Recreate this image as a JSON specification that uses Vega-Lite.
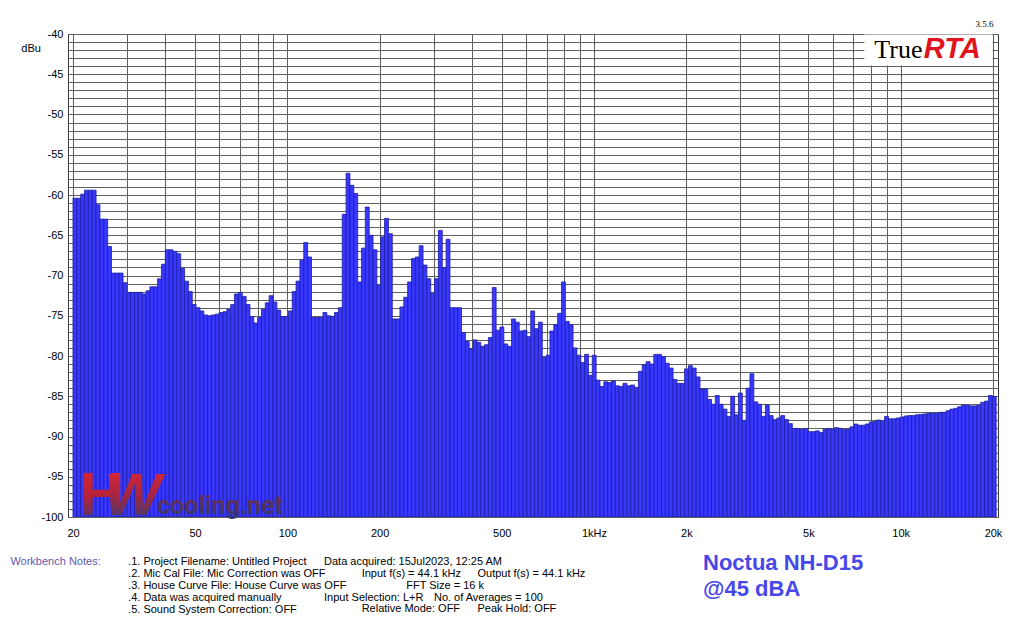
{
  "$schema": "https://vega.github.io/schema/vega-lite/v6.json",
  "width": 930,
  "height": 483,
  "autosize": {"type": "none"},
  "padding": {"left": 68, "top": 34, "right": 26, "bottom": 107},
  "background": "white",
  "config": {
    "font": "Liberation Sans, Arial, sans-serif",
    "view": {"stroke": "#3a3a3a", "strokeWidth": 1},
    "text": {"font": "Liberation Sans, Arial, sans-serif", "fontSize": 11, "baseline": "alphabetic", "align": "left", "color": "black"}
  },
  "layer": [
    {
      "data": {
        "values": [
          {"f": 20.29, "db": -60.4}, {"f": 20.89, "db": -60.4}, {"f": 21.50, "db": -59.9}, {"f": 22.13, "db": -59.4},
          {"f": 22.78, "db": -59.4}, {"f": 23.44, "db": -59.4}, {"f": 24.13, "db": -61.2}, {"f": 24.84, "db": -63.0},
          {"f": 25.57, "db": -63.0}, {"f": 26.31, "db": -66.4}, {"f": 27.09, "db": -69.7}, {"f": 27.88, "db": -69.7},
          {"f": 28.70, "db": -69.7}, {"f": 29.54, "db": -70.9}, {"f": 30.40, "db": -72.1}, {"f": 31.29, "db": -72.1},
          {"f": 32.21, "db": -72.1}, {"f": 33.15, "db": -72.1}, {"f": 34.13, "db": -72.3}, {"f": 35.13, "db": -71.9},
          {"f": 36.15, "db": -71.4}, {"f": 37.21, "db": -71.4}, {"f": 38.30, "db": -70.4}, {"f": 39.43, "db": -68.6},
          {"f": 40.58, "db": -66.8}, {"f": 41.77, "db": -66.8}, {"f": 43.00, "db": -67.0}, {"f": 44.25, "db": -67.3},
          {"f": 45.55, "db": -69.1}, {"f": 46.89, "db": -70.7}, {"f": 48.26, "db": -72.0}, {"f": 49.67, "db": -73.6},
          {"f": 51.13, "db": -74.0}, {"f": 52.63, "db": -74.4}, {"f": 54.17, "db": -74.9}, {"f": 55.76, "db": -75.0},
          {"f": 57.39, "db": -74.9}, {"f": 59.07, "db": -74.8}, {"f": 60.80, "db": -74.6}, {"f": 62.59, "db": -74.5},
          {"f": 64.42, "db": -74.2}, {"f": 66.31, "db": -73.6}, {"f": 68.25, "db": -72.3}, {"f": 70.25, "db": -72.1},
          {"f": 72.31, "db": -72.6}, {"f": 74.43, "db": -73.6}, {"f": 76.61, "db": -75.1}, {"f": 78.85, "db": -75.9},
          {"f": 81.16, "db": -75.2}, {"f": 83.54, "db": -74.2}, {"f": 85.99, "db": -73.4}, {"f": 88.51, "db": -72.5},
          {"f": 91.10, "db": -73.3}, {"f": 93.77, "db": -74.3}, {"f": 96.52, "db": -75.1}, {"f": 99.35, "db": -75.1},
          {"f": 102.26, "db": -74.4}, {"f": 105.26, "db": -72.0}, {"f": 108.34, "db": -70.7}, {"f": 111.51, "db": -68.1},
          {"f": 114.78, "db": -65.9}, {"f": 118.15, "db": -67.7}, {"f": 121.61, "db": -75.2}, {"f": 125.17, "db": -75.2},
          {"f": 128.84, "db": -75.2}, {"f": 132.61, "db": -74.6}, {"f": 136.50, "db": -75.0}, {"f": 140.50, "db": -75.1},
          {"f": 144.62, "db": -74.6}, {"f": 148.86, "db": -74.0}, {"f": 153.22, "db": -62.4}, {"f": 157.71, "db": -57.3},
          {"f": 162.3, "db": -58.8}, {"f": 167.1, "db": -59.8}, {"f": 172.0, "db": -70.8}, {"f": 177.0, "db": -66.6},
          {"f": 182.2, "db": -61.5}, {"f": 187.5, "db": -65.0}, {"f": 193.0, "db": -66.8}, {"f": 198.7, "db": -71.2},
          {"f": 204.5, "db": -65.2}, {"f": 210.5, "db": -62.9}, {"f": 216.7, "db": -64.8}, {"f": 223.0, "db": -75.4},
          {"f": 229.6, "db": -75.4}, {"f": 236.3, "db": -73.9}, {"f": 243.2, "db": -72.7}, {"f": 250.4, "db": -70.8},
          {"f": 257.7, "db": -67.9}, {"f": 265.2, "db": -67.7}, {"f": 273.0, "db": -66.3}, {"f": 281.0, "db": -68.7},
          {"f": 289.2, "db": -70.4}, {"f": 297.7, "db": -72.2}, {"f": 306.4, "db": -70.4}, {"f": 315.4, "db": -64.4},
          {"f": 324.7, "db": -69.0}, {"f": 334.2, "db": -65.5}, {"f": 344.0, "db": -74.0}, {"f": 354.0, "db": -74.0},
          {"f": 364.4, "db": -74.0}, {"f": 375.1, "db": -77.1}, {"f": 386.1, "db": -78.2}, {"f": 397.4, "db": -79.1},
          {"f": 409.0, "db": -78.0}, {"f": 421.0, "db": -78.3}, {"f": 433.4, "db": -78.8}, {"f": 446.1, "db": -78.6},
          {"f": 459.1, "db": -77.7}, {"f": 472.6, "db": -71.5}, {"f": 486.4, "db": -76.8}, {"f": 500.7, "db": -76.4},
          {"f": 515.4, "db": -78.5}, {"f": 530.5, "db": -78.8}, {"f": 546.0, "db": -75.4}, {"f": 562.0, "db": -75.8},
          {"f": 578.5, "db": -76.9}, {"f": 595.4, "db": -76.8}, {"f": 612.9, "db": -77.6}, {"f": 630.8, "db": -74.4},
          {"f": 649.3, "db": -76.6}, {"f": 668.3, "db": -75.8}, {"f": 687.9, "db": -80.2}, {"f": 708.1, "db": -79.9},
          {"f": 728.8, "db": -76.9}, {"f": 750.2, "db": -76.1}, {"f": 772.2, "db": -74.7}, {"f": 794.8, "db": -70.8},
          {"f": 818.1, "db": -75.7}, {"f": 842.0, "db": -76.1}, {"f": 866.7, "db": -79.0}, {"f": 892.1, "db": -79.9},
          {"f": 918.3, "db": -80.8}, {"f": 945.2, "db": -79.8}, {"f": 972.9, "db": -82.4}, {"f": 1001.4, "db": -79.9},
          {"f": 1030.7, "db": -83.0}, {"f": 1060.9, "db": -83.8}, {"f": 1092.0, "db": -83.2}, {"f": 1124.0, "db": -83.3},
          {"f": 1156.9, "db": -83.1}, {"f": 1190.8, "db": -83.7}, {"f": 1225.7, "db": -83.8}, {"f": 1261.6, "db": -83.4},
          {"f": 1298.6, "db": -83.7}, {"f": 1336.7, "db": -83.6}, {"f": 1375.8, "db": -83.9}, {"f": 1416.2, "db": -81.9},
          {"f": 1457.7, "db": -81.1}, {"f": 1500.4, "db": -80.7}, {"f": 1544.4, "db": -81.0}, {"f": 1589.6, "db": -79.8},
          {"f": 1636.2, "db": -79.8}, {"f": 1684.1, "db": -80.1}, {"f": 1733.5, "db": -80.9}, {"f": 1784.2, "db": -81.5},
          {"f": 1836.5, "db": -82.9}, {"f": 1890.3, "db": -83.4}, {"f": 1945.7, "db": -83.4}, {"f": 2002.7, "db": -81.6},
          {"f": 2061.4, "db": -81.2}, {"f": 2121.8, "db": -81.5}, {"f": 2184.0, "db": -82.6}, {"f": 2248.0, "db": -84.1},
          {"f": 2313.9, "db": -84.1}, {"f": 2381.7, "db": -85.4}, {"f": 2451.5, "db": -86.0}, {"f": 2523.3, "db": -84.9},
          {"f": 2597.2, "db": -86.0}, {"f": 2673.3, "db": -86.6}, {"f": 2751.7, "db": -87.5}, {"f": 2832.3, "db": -85.0},
          {"f": 2915.3, "db": -87.3}, {"f": 3000.7, "db": -84.6}, {"f": 3088.7, "db": -88.0}, {"f": 3179.2, "db": -84.0},
          {"f": 3272.3, "db": -82.2}, {"f": 3368.2, "db": -85.7}, {"f": 3466.9, "db": -86.0}, {"f": 3568.4, "db": -87.5},
          {"f": 3673.0, "db": -86.1}, {"f": 3780.7, "db": -87.4}, {"f": 3891.5, "db": -87.9}, {"f": 4005.5, "db": -87.7},
          {"f": 4122.9, "db": -87.4}, {"f": 4243.7, "db": -87.9}, {"f": 4368.0, "db": -88.4}, {"f": 4496.0, "db": -89.0},
          {"f": 4627.8, "db": -89.0}, {"f": 4763.4, "db": -89.1}, {"f": 4902.9, "db": -89.0}, {"f": 5046.6, "db": -89.4},
          {"f": 5194.5, "db": -89.4}, {"f": 5346.7, "db": -89.3}, {"f": 5503.3, "db": -89.5}, {"f": 5664.6, "db": -89.1},
          {"f": 5830.6, "db": -89.0}, {"f": 6001.5, "db": -89.1}, {"f": 6177.3, "db": -88.9}, {"f": 6358.3, "db": -89.0},
          {"f": 6544.6, "db": -89.1}, {"f": 6736.4, "db": -89.1}, {"f": 6933.8, "db": -88.8}, {"f": 7136.9, "db": -88.45},
          {"f": 7346.1, "db": -88.6}, {"f": 7561.3, "db": -88.6}, {"f": 7782.9, "db": -88.45}, {"f": 8010.9, "db": -88.2},
          {"f": 8245.7, "db": -88.1}, {"f": 8487.3, "db": -87.95}, {"f": 8736.0, "db": -88.1}, {"f": 8992.0, "db": -87.5},
          {"f": 9255.5, "db": -87.8}, {"f": 9526.7, "db": -87.8}, {"f": 9805.9, "db": -87.7}, {"f": 10093.2, "db": -87.6},
          {"f": 10389, "db": -87.45}, {"f": 10693, "db": -87.4}, {"f": 11007, "db": -87.4}, {"f": 11329, "db": -87.3},
          {"f": 11661, "db": -87.25}, {"f": 12003, "db": -87.2}, {"f": 12355, "db": -87.1}, {"f": 12717, "db": -87.1},
          {"f": 13089, "db": -87.1}, {"f": 13473, "db": -87.0}, {"f": 13868, "db": -87.0}, {"f": 14274, "db": -86.8},
          {"f": 14692, "db": -86.6}, {"f": 15123, "db": -86.5}, {"f": 15566, "db": -86.3}, {"f": 16022, "db": -86.1},
          {"f": 16491, "db": -86.1}, {"f": 16975, "db": -86.2}, {"f": 17472, "db": -86.2}, {"f": 17984, "db": -86.1},
          {"f": 18511, "db": -85.75}, {"f": 19053, "db": -85.6}, {"f": 19612, "db": -84.9}, {"f": 20186, "db": -85.05}
        ]
      },
      "mark": {"type": "bar", "width": 3.89, "fill": "#3737ff", "stroke": "#1e1ea0", "strokeWidth": 0.8, "clip": true},
      "encoding": {
        "x": {
          "field": "f",
          "type": "quantitative",
          "scale": {"type": "log", "domain": [20, 20000], "nice": false},
          "axis": {
            "title": null,
            "values": [20, 30, 40, 50, 60, 70, 80, 90, 100, 200, 300, 400, 500, 600, 700, 800, 900, 1000, 2000, 3000, 4000, 5000, 6000, 7000, 8000, 9000, 10000, 20000],
            "tickCount": 100,
            "labelExpr": "datum.value == 1000 ? '1kHz' : indexof([20, 50, 100, 200, 500], datum.value) >= 0 ? '' + datum.value : indexof([2000, 5000, 10000, 20000], datum.value) >= 0 ? (datum.value / 1000) + 'k' : ''",
            "grid": true,
            "gridColor": "#606060",
            "gridWidth": 1,
            "ticks": false,
            "domain": false,
            "labelPadding": 10,
            "labelFontSize": 11,
            "labelColor": "black",
            "labelOverlap": false,
            "labelFlush": false,
            "labelBound": false
          }
        },
        "y": {
          "field": "db",
          "type": "quantitative",
          "scale": {"domain": [-100, -40], "nice": false, "zero": false},
          "axis": {
            "title": null,
            "values": [-100, -99, -98, -97, -96, -95, -94, -93, -92, -91, -90, -89, -88, -87, -86, -85, -84, -83, -82, -81, -80, -79, -78, -77, -76, -75, -74, -73, -72, -71, -70, -69, -68, -67, -66, -65, -64, -63, -62, -61, -60, -59, -58, -57, -56, -55, -54, -53, -52, -51, -50, -49, -48, -47, -46, -45, -44, -43, -42, -41, -40],
            "tickCount": 100,
            "labelExpr": "datum.value % 5 == 0 ? '' + datum.value : ''",
            "grid": true,
            "gridColor": "#606060",
            "gridWidth": 1,
            "ticks": false,
            "domain": false,
            "labelPadding": 5,
            "labelFontSize": 11,
            "labelColor": "black",
            "labelOverlap": false,
            "labelFlush": false,
            "labelBound": false
          }
        },
        "y2": {"datum": -100}
      }
    },
    {
      "data": {"values": [{}]},
      "mark": {"type": "rect", "fill": "white", "strokeWidth": 0},
      "encoding": {"x": {"datum": 7612}, "x2": {"datum": 19940}, "y": {"datum": -40.07}, "y2": {"datum": -43.9}}
    },
    {
      "data": {"values": [{}]},
      "mark": {"type": "text", "text": "True", "font": "Liberation Serif, Times New Roman, serif", "fontSize": 26},
      "encoding": {"x": {"datum": 8202}, "y": {"datum": -43.0}}
    },
    {
      "data": {"values": [{}]},
      "mark": {"type": "text", "text": "RTA", "fontSize": 29, "fontWeight": "bold", "fontStyle": "italic", "fill": "#e0141e"},
      "encoding": {"x": {"datum": 11900}, "y": {"datum": -43.0}}
    },
    {
      "data": {"values": [{}]},
      "mark": {"type": "text", "text": "3.5.6", "align": "right", "font": "Liberation Serif, Times New Roman, serif", "fontSize": 9},
      "encoding": {"x": {"datum": 20090}, "y": {"datum": -39.19}}
    },
    {
      "data": {"values": [{}]},
      "mark": {"type": "text", "text": "dBu", "align": "center"},
      "encoding": {"x": {"datum": 14.6}, "y": {"datum": -42.24}}
    },
    {
      "data": {"values": [{}]},
      "mark": {
        "type": "text", "text": "H", "fontSize": 62, "fontWeight": "bold",
        "fill": {"gradient": "linear", "x1": 0, "y1": 0, "x2": 0, "y2": 1, "stops": [{"offset": 0, "color": "#e8262e"}, {"offset": 0.55, "color": "#b5233a"}, {"offset": 1, "color": "#2e3a78"}]}
      },
      "encoding": {"x": {"datum": 21.02}, "y": {"datum": -99.75}}
    },
    {
      "data": {"values": [{}]},
      "mark": {
        "type": "text", "text": "W", "fontSize": 60, "fontWeight": "bold", "fontStyle": "italic",
        "fill": {"gradient": "linear", "x1": 0, "y1": 0, "x2": 0, "y2": 1, "stops": [{"offset": 0, "color": "#e8262e"}, {"offset": 0.5, "color": "#a82540"}, {"offset": 1, "color": "#22407a"}]}
      },
      "encoding": {"x": {"datum": 25.3}, "y": {"datum": -99.75}}
    },
    {
      "data": {"values": [{}]},
      "mark": {
        "type": "text", "text": "cooling.net", "font": "Roboto, Liberation Sans, sans-serif", "fontSize": 25, "fontWeight": "bold",
        "fill": {"gradient": "linear", "x1": 0, "y1": 0, "x2": 0, "y2": 1, "stops": [{"offset": 0, "color": "#7a2a50"}, {"offset": 1, "color": "#2d3a72"}]}
      },
      "encoding": {"x": {"datum": 37.6}, "y": {"datum": -99.63}}
    },
    {
      "data": {"values": [{}]},
      "mark": {"type": "text", "text": "Workbench Notes:", "fill": "#5b5bb0"},
      "encoding": {"x": {"datum": 12.5}, "y": {"datum": -105.96}}
    },
    {
      "data": {"values": [{}]},
      "mark": {
        "type": "text", "lineHeight": 11.9,
        "text": [".1. Project Filename: Untitled Project", ".2. Mic Cal File: Mic Correction was OFF", ".3. House Curve File: House Curve was OFF", ".4. Data was acquired manually", ".5. Sound System Correction: OFF"]
      },
      "encoding": {"x": {"datum": 30.25}, "y": {"datum": -105.96}}
    },
    {
      "data": {"values": [{}]},
      "mark": {"type": "text", "text": "Data acquired: 15Jul2023, 12:25 AM"},
      "encoding": {"x": {"datum": 131.7}, "y": {"datum": -105.96}}
    },
    {
      "data": {"values": [{}]},
      "mark": {"type": "text", "text": "Input f(s) = 44.1 kHz"},
      "encoding": {"x": {"datum": 174.7}, "y": {"datum": -107.45}}
    },
    {
      "data": {"values": [{}]},
      "mark": {"type": "text", "text": "Output f(s) = 44.1 kHz"},
      "encoding": {"x": {"datum": 416.8}, "y": {"datum": -107.45}}
    },
    {
      "data": {"values": [{}]},
      "mark": {"type": "text", "text": "FFT Size = 16 k"},
      "encoding": {"x": {"datum": 244.1}, "y": {"datum": -108.94}}
    },
    {
      "data": {"values": [{}]},
      "mark": {"type": "text", "text": "Input Selection: L+R"},
      "encoding": {"x": {"datum": 131.7}, "y": {"datum": -110.43}}
    },
    {
      "data": {"values": [{}]},
      "mark": {"type": "text", "text": "No. of Averages = 100"},
      "encoding": {"x": {"datum": 300.6}, "y": {"datum": -110.43}}
    },
    {
      "data": {"values": [{}]},
      "mark": {"type": "text", "text": "Relative Mode:  OFF"},
      "encoding": {"x": {"datum": 174.7}, "y": {"datum": -111.8}}
    },
    {
      "data": {"values": [{}]},
      "mark": {"type": "text", "text": "Peak Hold: OFF"},
      "encoding": {"x": {"datum": 416.8}, "y": {"datum": -111.8}}
    },
    {
      "data": {"values": [{}]},
      "mark": {"type": "text", "text": ["Noctua NH-D15", "@45 dBA"], "lineHeight": 26.5, "fontSize": 22, "fontWeight": "bold", "fill": "#4848e8"},
      "encoding": {"x": {"datum": 2267}, "y": {"datum": -106.58}}
    }
  ]
}
